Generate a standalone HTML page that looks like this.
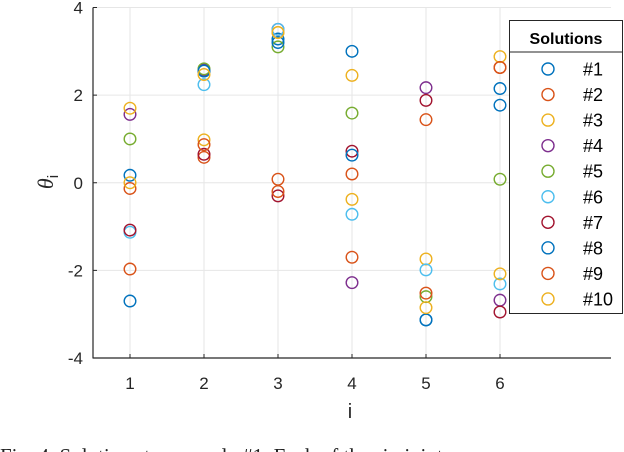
<!DOCTYPE html>
<html><head><meta charset="utf-8"><style>
html,body{margin:0;padding:0;background:#fff;overflow:hidden;width:624px;height:452px}
svg{display:block}
text{font-family:"Liberation Sans",sans-serif}
</style></head><body>
<svg id="chart" width="624" height="452" viewBox="0 0 624 452" xmlns="http://www.w3.org/2000/svg">
<g id="grid"></g>
<g id="axes"></g>
<g id="points"></g>
<g id="legend"></g>
<text x="0" y="463" fill="#222" style="font-family:'Liberation Serif',serif;font-size:21px">Fig. 4.  Solutions to example #1. Each of the six joint</text>
</svg>
<script>
const categories = [1, 2, 3, 4, 5, 6];
const yTicks = [4, 2, 0, -2, -4];
const seriesNames = ['#1','#2','#3','#4','#5','#6','#7','#8','#9','#10'];
const s1 = [0.17, 2.55, 3.28, 3.0, -3.13, 2.15];
const s2 = [-0.13, 0.58, 0.08, 0.2, 1.44, 2.63];
const s3 = [0.0, 0.98, 3.43, 2.45, -1.74, 2.88];
const s4 = [1.56, 2.58, 3.5, -2.28, 2.17, -2.68];
const s5 = [1.0, 2.6, 3.1, 1.59, -2.6, 0.08];
const s6 = [-1.13, 2.24, 3.5, -0.72, -1.99, -2.31];
const s7 = [-1.08, 0.65, -0.3, 0.72, 1.88, -2.95];
const s8 = [-2.7, 2.55, 3.2, 0.63, -3.13, 1.77];
const s9 = [-1.97, 0.87, -0.2, -1.7, -2.52, 2.63];
const s10 = [1.7, 2.47, 3.43, -0.38, -2.85, -2.08];
const series = [s1,s2,s3,s4,s5,s6,s7,s8,s9,s10];
const colors = ['#0072BD','#D95319','#EDB120','#7E2F8E','#77AC30','#4DBEEE','#A2142F','#0072BD','#D95319','#EDB120'];

const NS='http://www.w3.org/2000/svg';
const L=93, R=611, T=7.5, B=358;
const xS = v => L + (v-0.5)/7*(R-L);
const yS = v => B - (v+4)/8*(B-T);
function mk(tag, attrs, parent){const e=document.createElementNS(NS,tag);for(const k in attrs)e.setAttribute(k,attrs[k]);parent.appendChild(e);return e;}
const grid=document.getElementById('grid'), axes=document.getElementById('axes'), pts=document.getElementById('points'), leg=document.getElementById('legend');

categories.forEach(c=>{
  const g=mk('line',{x1:xS(c),x2:xS(c),y1:T,y2:B,stroke:'#e6e6e6','stroke-width':1},grid);
  
  
  const t=mk('line',{x1:xS(c),x2:xS(c),y1:B,y2:B-4,stroke:'#262626','stroke-width':1},axes);
  
  
  const lb=mk('text',{x:xS(c),y:389,'text-anchor':'middle','font-size':17,fill:'#262626'},axes);
  lb.textContent=c;
  
  
});
yTicks.forEach(v=>{
  const g=mk('line',{x1:L,x2:R,y1:yS(v),y2:yS(v),stroke:'#e6e6e6','stroke-width':1},grid);
  
  
  const t=mk('line',{x1:L,x2:L+4,y1:yS(v),y2:yS(v),stroke:'#262626','stroke-width':1},axes);
  
  
  const lb=mk('text',{x:83,y:yS(v)+6,'text-anchor':'end','font-size':17,fill:'#262626'},axes);
  lb.textContent=v;
  
  
});
const ax1=mk('line',{x1:L,x2:L,y1:T,y2:B+0.5,stroke:'#262626','stroke-width':1.2},axes);


const ax2=mk('line',{x1:L,x2:R,y1:B,y2:B,stroke:'#262626','stroke-width':1.2},axes);


const xt=mk('text',{x:350,y:418,'text-anchor':'middle','font-size':20,fill:'#262626'},axes);
xt.textContent='i';


const yt=mk('text',{x:0,y:0,'text-anchor':'middle','font-size':22,fill:'#262626',transform:'translate(53,182) rotate(-90)'},axes);
yt.innerHTML='<tspan font-style="italic" font-family="Liberation Serif, serif">θ</tspan><tspan font-size="15" dy="5">i</tspan>';



series.forEach((s,si)=>{
  s.forEach((v,ci)=>{
    const c=mk('circle',{cx:xS(categories[ci]),cy:yS(v),r:5.8,fill:'none',stroke:colors[si],'stroke-width':1.4},pts);
    
    
  });
});

const lb=mk('rect',{x:509.5,y:20.5,width:113,height:293,fill:'#fff',stroke:'#262626','stroke-width':1},leg);


const hl=mk('line',{x1:509.5,x2:622.5,y1:52,y2:52,stroke:'#262626','stroke-width':1},leg);


const ttl=mk('text',{x:566,y:44,'text-anchor':'middle','font-size':16,'font-weight':'bold',fill:'#000'},leg);
ttl.textContent='Solutions';


seriesNames.forEach((n,i)=>{
  const y=69+i*25.55;
  const c=mk('circle',{cx:548,cy:y,r:6,fill:'none',stroke:colors[i],'stroke-width':1.4},leg);
  
  
  const t=mk('text',{x:583,y:y+6.5,'font-size':18,fill:'#000'},leg);
  t.textContent=n;
  
  
});
</script>
</body></html>
